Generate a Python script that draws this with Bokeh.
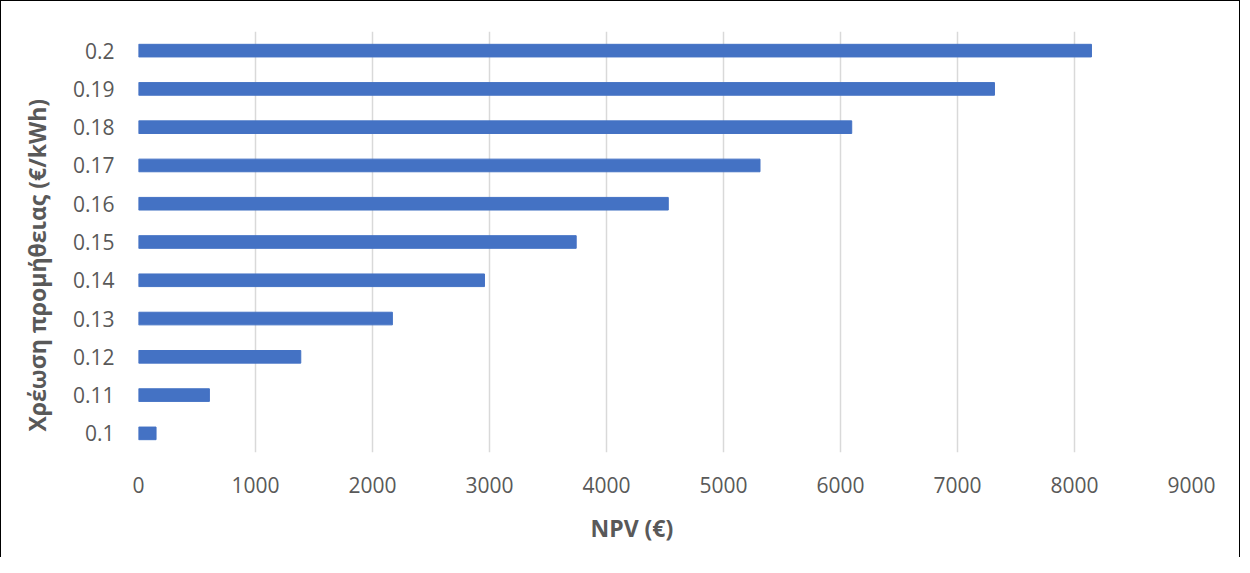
from bokeh.plotting import figure
from bokeh.models import Range1d, FactorRange, Title, SingleIntervalTicker
from bokeh.embed import file_html
from bokeh.resources import INLINE

categories = ["0.1", "0.11", "0.12", "0.13", "0.14", "0.15", "0.16", "0.17", "0.18", "0.19", "0.2"]
npv_values = [150, 606, 1387, 2170, 2957, 3741, 4528, 5312, 6096, 7316, 8145]
x_title = "NPV (€)"
y_title = "Χρέωση προμήθειας (€/kWh)"

FONT = "Open Sans"
GREY = "#595959"

p = figure(width=1240, height=557, output_backend="svg", toolbar_location=None,
           x_range=Range1d(0, 9000), y_range=FactorRange(*categories),
           min_border_left=137, min_border_right=50, min_border_top=30, min_border_bottom=106)
p.styles = {"border-left": "1px solid #000", "border-top": "1px solid #000",
            "border-right": "1px solid #000", "box-sizing": "border-box"}

p.hbar(y=categories, right=npv_values, left=0, height=0.33, color="#4472C4")

p.outline_line_color = None
p.xaxis.ticker = SingleIntervalTicker(interval=1000)
p.xgrid.ticker = SingleIntervalTicker(interval=1000)
p.xgrid.grid_line_color = "#d9d9d9"
p.xgrid.grid_line_width = 1.5
p.ygrid.grid_line_color = None

for ax in (p.xaxis, p.yaxis):
    ax.axis_line_color = None
    ax.major_tick_line_color = None
    ax.minor_tick_line_color = None
    ax.major_label_text_font = FONT
    ax.major_label_text_font_size = "21px"
    ax.major_label_text_color = GREY
    ax.major_label_text_font_style = "normal"

p.xaxis.major_label_standoff = 18
p.yaxis.major_label_standoff = 18

p.add_layout(Title(text=x_title, align="left", offset=452, standoff=29,
                   text_font=FONT, text_font_size="23px", text_font_style="bold",
                   text_color=GREY), "below")
p.add_layout(Title(text=y_title, align="left", offset=21, standoff=34,
                   text_font=FONT, text_font_size="23px", text_font_style="bold",
                   text_color=GREY), "left")

open("out.html", "w").write(file_html(p, INLINE))
